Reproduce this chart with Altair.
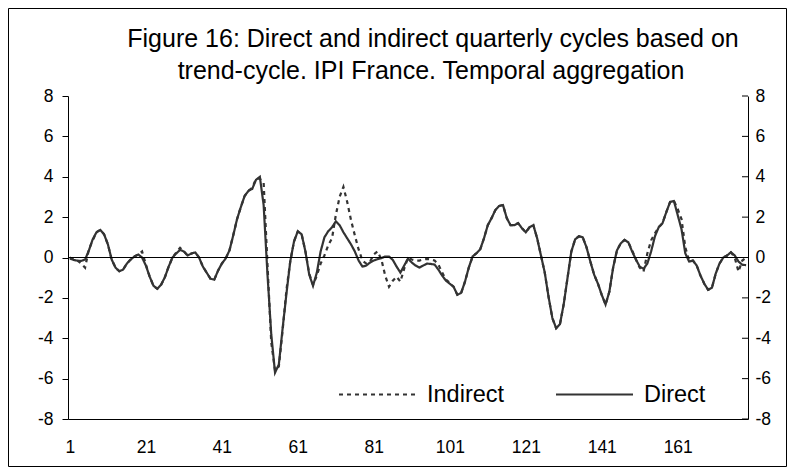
import altair as alt
import pandas as pd

# x positions (quarters 1..179)
n_points = 179
direct = [
    -0.05, -0.12, -0.16, -0.17, -0.10, 0.35, 0.90, 1.25, 1.37, 1.15,
    0.65, -0.10, -0.50, -0.68, -0.60, -0.30, -0.10, 0.05, 0.15, 0.00,
    -0.40, -0.95, -1.40, -1.55, -1.35, -0.98, -0.45, 0.00, 0.20, 0.38,
    0.30, 0.10, 0.20, 0.25, 0.00, -0.45, -0.75, -1.05, -1.10, -0.65,
    -0.30, -0.05, 0.35, 1.10, 1.90, 2.50, 3.05, 3.30, 3.40, 3.85,
    4.00, 2.60, -0.80, -3.80, -5.70, -5.30, -3.50, -1.80, -0.20, 0.80,
    1.30, 1.15, 0.30, -0.85, -1.40, -0.75, 0.30, 1.00, 1.30, 1.50,
    1.79, 1.60, 1.25, 0.95, 0.65, 0.30, -0.15, -0.45, -0.40, -0.25,
    -0.15, -0.08, -0.03, 0.05, 0.05, -0.12, -0.45, -0.75, -0.40, -0.05,
    -0.25, -0.40, -0.50, -0.40, -0.30, -0.32, -0.35, -0.60, -0.90, -1.15,
    -1.30, -1.45, -1.85, -1.75, -1.20, -0.50, 0.05, 0.21, 0.40, 0.95,
    1.60, 1.95, 2.35, 2.55, 2.60, 1.95, 1.60, 1.60, 1.70, 1.45,
    1.25, 1.50, 1.60, 0.95, 0.10, -0.75, -1.95, -3.00, -3.50, -3.30,
    -2.30, -1.00, 0.30, 0.90, 1.05, 1.00, 0.50, -0.20, -0.85, -1.30,
    -1.85, -2.33, -1.70, -0.50, 0.35, 0.70, 0.87, 0.75, 0.30, -0.10,
    -0.45, -0.56, -0.30, 0.30, 1.05, 1.50, 1.70, 2.25, 2.75, 2.80,
    2.10, 1.40, 0.20, -0.20, -0.15, -0.40, -0.90, -1.30, -1.60, -1.50,
    -0.80, -0.30, 0.00, 0.10, 0.26, 0.10, -0.20, -0.36, -0.38,
]
indirect = [
    0.00, -0.10, -0.15, -0.30, -0.50, 0.40, 0.85, 1.25, 1.37, 1.15,
    0.65, -0.10, -0.50, -0.68, -0.60, -0.30, -0.10, 0.05, 0.15, 0.30,
    -0.35, -0.95, -1.40, -1.55, -1.35, -0.98, -0.45, 0.00, 0.25, 0.48,
    0.30, 0.10, 0.20, 0.25, 0.00, -0.45, -0.75, -1.05, -1.10, -0.65,
    -0.30, -0.05, 0.35, 1.10, 1.90, 2.50, 3.05, 3.30, 3.45, 3.90,
    3.90, 3.70, -0.30, -4.20, -5.60, -5.40, -3.60, -1.60, -0.20, 0.80,
    1.30, 1.15, 0.30, -0.80, -1.35, -0.90, -0.30, 0.10, 0.60, 0.95,
    2.10, 3.00, 3.50, 2.75, 1.85, 1.10, 0.40, -0.15, -0.30, -0.20,
    0.15, 0.30, -0.10, -0.90, -1.45, -1.15, -0.95, -1.20, -0.55, 0.00,
    -0.10, -0.15, -0.15, -0.10, -0.07, -0.10, -0.15, -0.35, -0.75, -1.10,
    -1.25, -1.45, -1.85, -1.75, -1.20, -0.50, 0.05, 0.21, 0.40, 0.95,
    1.60, 1.95, 2.35, 2.55, 2.60, 1.95, 1.60, 1.60, 1.70, 1.45,
    1.25, 1.50, 1.60, 0.95, 0.10, -0.75, -1.95, -3.00, -3.50, -3.30,
    -2.30, -1.00, 0.30, 0.90, 1.05, 1.00, 0.50, -0.20, -0.85, -1.30,
    -1.85, -2.33, -1.70, -0.50, 0.35, 0.70, 0.87, 0.75, 0.35, -0.10,
    -0.50, -0.70, 0.20, 0.85, 1.20, 1.50, 1.70, 2.25, 2.75, 2.80,
    2.40, 1.90, 0.50, -0.15, -0.15, -0.40, -0.90, -1.30, -1.60, -1.50,
    -0.80, -0.30, 0.00, 0.10, 0.26, 0.00, -0.70, -0.15, 0.00,
]
x_tick_labels = [1, 21, 41, 61, 81, 101, 121, 141, 161]
y_ticks = [-8, -6, -4, -2, 0, 2, 4, 6, 8]
series_names = ["Indirect", "Direct"]
title_lines = [
    "Figure 16: Direct and indirect quarterly cycles based on",
    "trend-cycle. IPI France. Temporal aggregation",
]

rows = []
for i in range(n_points):
    rows.append({"t": i + 1, "value": indirect[i], "series": "Indirect"})
    rows.append({"t": i + 1, "value": direct[i], "series": "Direct"})
df = pd.DataFrame(rows)

FONT = "Liberation Sans"
INK = "#333333"
HYPHEN_LABEL = "'' + datum.value"
TICK_FS = 17.5

x_scale = alt.Scale(domain=[0.5, n_points + 0.5], nice=False, zero=False)
y_scale = alt.Scale(domain=[-8, 8], nice=False)

lines = alt.Chart(df).mark_line(strokeWidth=2.2, color=INK).encode(
    x=alt.X("t:Q", scale=x_scale,
            axis=alt.Axis(values=x_tick_labels, title=None, grid=False, ticks=False,
                          domainColor="black", labelPadding=19, labelFontSize=TICK_FS,
                          labelColor="black", labelFont=FONT)),
    y=alt.Y("value:Q", scale=y_scale,
            axis=alt.Axis(values=y_ticks, title=None, grid=False, tickSize=6,
                          tickColor="black", domainColor="black", labelPadding=9,
                          labelFontSize=TICK_FS, labelColor="black", labelFont=FONT,
                          labelExpr=HYPHEN_LABEL)),
    strokeDash=alt.StrokeDash(
        "series:N",
        scale=alt.Scale(domain=series_names, range=[[4, 4], [1, 0]]),
        sort=series_names,
        legend=alt.Legend(
            title=None, orient="none", legendX=270, legendY=259,
            direction="horizontal", symbolType="stroke", symbolSize=5929,
            symbolStrokeWidth=2, symbolStrokeColor=INK, labelFontSize=23.5,
            labelFont=FONT, labelColor="black", labelOffset=10,
            columnPadding=47, labelLimit=300, symbolDash=[5, 5],
        ),
    ),
    order=alt.Order("t:Q"),
)

zero = alt.Chart(pd.DataFrame({"v": [0]})).mark_rule(color="black", strokeWidth=1).encode(
    y=alt.Y("v:Q", scale=y_scale)
)

right_ticks = alt.Chart(pd.DataFrame({"v": y_ticks})).mark_rule(color="black", strokeWidth=1).encode(
    x=alt.value(674),
    x2=alt.value(680),
    y=alt.Y("v:Q", scale=y_scale,
            axis=alt.Axis(orient="right", values=y_ticks, title=None, grid=False,
                          ticks=False, domainColor="black", labelPadding=7,
                          labelFontSize=TICK_FS, labelColor="black", labelFont=FONT,
                          labelExpr=HYPHEN_LABEL)),
)

frame = alt.Chart(pd.DataFrame({"a": [0]})).mark_rect(
    fill=None, stroke="black", strokeWidth=1
).encode(
    x=alt.value(-59.5), x2=alt.value(718.5), y=alt.value(-87.5), y2=alt.value(370.5)
)

title_df = pd.DataFrame({"line": title_lines})
title1 = alt.Chart(title_df.iloc[[0]]).mark_text(
    font=FONT, fontSize=25, color="black", align="center", baseline="middle"
).encode(text="line:N", x=alt.value(365), y=alt.value(-57))
title2 = alt.Chart(title_df.iloc[[1]]).mark_text(
    font=FONT, fontSize=25, color="black", align="center", baseline="middle"
).encode(text="line:N", x=alt.value(363), y=alt.value(-25))

chart = alt.layer(alt.layer(lines, zero), right_ticks, frame, title1, title2).resolve_scale(
    y="independent"
).properties(
    width=680,
    height=323,
    autosize=alt.AutoSizeParams(type="none"),
    padding={"left": 60, "top": 88, "right": 39, "bottom": 48},
).configure(background="white", view=alt.ViewConfig(stroke=None))

chart.save("out.html", embed_options={"renderer": "svg", "actions": False})
